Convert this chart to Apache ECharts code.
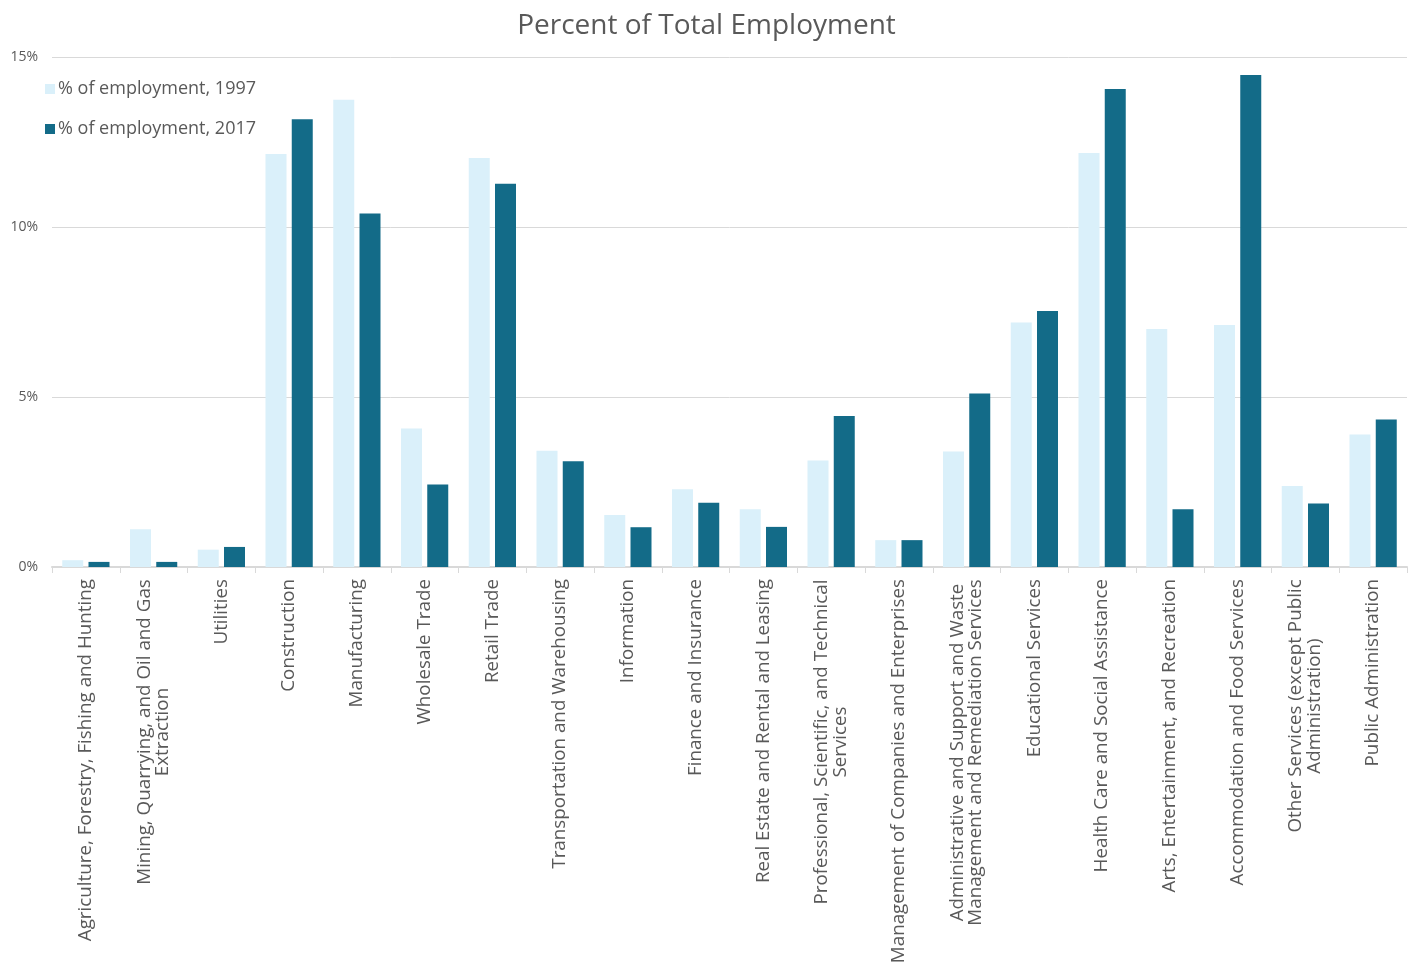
<!DOCTYPE html>
<html>
<head>
<meta charset="utf-8">
<script src="https://cdn.jsdelivr.net/npm/echarts@6/dist/echarts.min.js"></script>
<style>
html,body{margin:0;padding:0;background:#fff;}
#main{width:1413px;height:978px;}
</style>
</head>
<body>
<div id="main"></div>
<script>
const categories = [
  "Agriculture, Forestry, Fishing and Hunting",
  "Mining, Quarrying, and Oil and Gas\nExtraction",
  "Utilities",
  "Construction",
  "Manufacturing",
  "Wholesale Trade",
  "Retail Trade",
  "Transportation and Warehousing",
  "Information",
  "Finance and Insurance",
  "Real Estate and Rental and Leasing",
  "Professional, Scientific, and Technical\nServices",
  "Management of Companies and Enterprises",
  "Administrative and Support and Waste\nManagement and Remediation Services",
  "Educational Services",
  "Health Care and Social Assistance",
  "Arts, Entertainment, and Recreation",
  "Accommodation and Food Services",
  "Other Services (except Public\nAdministration)",
  "Public Administration"
];
const values1997 = [0.20, 1.11, 0.51, 12.15, 13.74, 4.07, 12.03, 3.42, 1.53, 2.29, 1.70, 3.13, 0.79, 3.40, 7.19, 12.18, 7.00, 7.12, 2.38, 3.90];
const values2017 = [0.15, 0.15, 0.59, 13.17, 10.40, 2.43, 11.27, 3.11, 1.17, 1.89, 1.18, 4.44, 0.79, 5.10, 7.53, 14.06, 1.70, 14.47, 1.87, 4.34];
const seriesNames = ["% of employment, 1997", "% of employment, 2017"];

const FONT = "'Open Sans', 'Noto Sans', sans-serif";
const LABEL_SIZE = 18.8;
const textColor = "#595959";

// Measure lines so wrapped labels can be centred line by line
const cv = document.createElement("canvas").getContext("2d");
cv.font = LABEL_SIZE + "px " + FONT;
const rich = {};
const labelMap = {};
categories.forEach((c, i) => {
  const lines = c.split("\n");
  if (lines.length > 1) {
    const w = Math.ceil(Math.max(...lines.map(l => cv.measureText(l).width)));
    const key = "w" + i;
    rich[key] = { width: w, align: "center", fontSize: LABEL_SIZE, fontFamily: FONT, color: textColor, lineHeight: 18.5 };
    labelMap[c] = lines.map(l => "{" + key + "|" + l + "}").join("\n");
  } else {
    labelMap[c] = c;
  }
});

const chart = echarts.init(document.getElementById("main"), null, { renderer: "canvas" });
chart.setOption({
  animation: false,
  backgroundColor: "#fff",
  title: {
    text: "Percent of Total Employment",
    left: "center",
    top: 7,
    textStyle: { fontFamily: FONT, fontSize: 28, fontWeight: "normal", color: textColor }
  },
  legend: {
    orient: "vertical",
    left: 40,
    top: 75,
    itemWidth: 10,
    itemHeight: 10,
    itemGap: 22,
    icon: "rect",
    textStyle: { fontFamily: FONT, fontSize: 18, color: textColor, padding: [0, 0, 0, -2] },
    data: seriesNames
  },
  grid: { left: 52, right: 6, top: 57, bottom: 411, containLabel: false },
  xAxis: {
    type: "category",
    data: categories,
    axisLine: { lineStyle: { color: "#d9d9d9", width: 2 } },
    axisTick: { show: true, length: 6, lineStyle: { color: "#d9d9d9", width: 1 } },
    axisLabel: {
      interval: 0,
      rotate: 90,
      margin: 12,
      fontFamily: FONT,
      fontSize: LABEL_SIZE,
      color: textColor,
      lineHeight: 18.5,
      rich: rich,
      formatter: v => labelMap[v]
    }
  },
  yAxis: {
    type: "value",
    min: 0,
    max: 15,
    interval: 5,
    axisLine: { show: false },
    axisTick: { show: false },
    splitLine: { lineStyle: { color: "#d9d9d9", width: 1 } },
    axisLabel: { fontFamily: FONT, fontSize: 14, color: textColor, margin: 14, formatter: "{value}%" }
  },
  series: [
    {
      name: seriesNames[0],
      type: "bar",
      data: values1997,
      barWidth: 21,
      barGap: "25%",
      itemStyle: { color: "#daf0fa" }
    },
    {
      name: seriesNames[1],
      type: "bar",
      data: values2017,
      barWidth: 21,
      barGap: "25%",
      itemStyle: { color: "#136b88" }
    }
  ]
});
</script>
</body>
</html>
